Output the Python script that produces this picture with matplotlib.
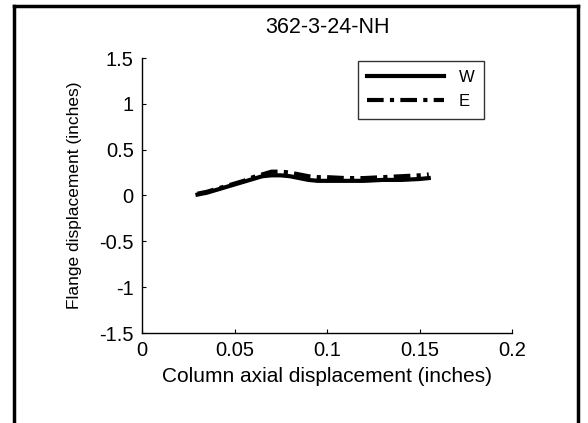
import matplotlib
matplotlib.use("Agg")
import matplotlib.pyplot as plt
from matplotlib.lines import Line2D

plt.rcParams['font.family'] = ['Liberation Sans', 'DejaVu Sans']

# data
x_disp = [0.030, 0.035, 0.040, 0.045, 0.050, 0.055, 0.060, 0.065, 0.070, 0.075, 0.080,
          0.085, 0.090, 0.095, 0.100, 0.110, 0.120, 0.130, 0.140, 0.150, 0.155]
y_w = [0.01, 0.03, 0.06, 0.09, 0.12, 0.15, 0.18, 0.21, 0.22, 0.22, 0.21,
       0.19, 0.17, 0.16, 0.16, 0.16, 0.16, 0.17, 0.17, 0.18, 0.19]
y_e = [0.02, 0.04, 0.07, 0.10, 0.13, 0.16, 0.20, 0.23, 0.26, 0.26, 0.25,
       0.23, 0.21, 0.20, 0.20, 0.19, 0.19, 0.20, 0.21, 0.22, 0.23]
x_ticks = [0, 0.05, 0.1, 0.15, 0.2]
x_labels = ['0', '0.05', '0.1', '0.15', '0.2']
y_ticks = [-1.5, -1, -0.5, 0, 0.5, 1, 1.5]
y_labels = ['-1.5', '-1', '-0.5', '0', '0.5', '1', '1.5']

fig = plt.figure(figsize=(5.88, 4.23), dpi=100)
ax = fig.add_axes([142/588, 1-333/423, 370/588, 275/423])

ax.plot(x_disp, y_w, color='black', lw=3, ls='-', label='W')
ax.plot(x_disp, y_e, color='black', lw=3, ls=(0, (4, 1.5, 1, 1.5)), label='E')

ax.set_xlim(0, 0.2)
ax.set_ylim(-1.5, 1.5)
ax.set_xticks(x_ticks)
ax.set_xticklabels(x_labels)
ax.set_yticks(y_ticks)
ax.set_yticklabels(y_labels)
ax.tick_params(direction='in', length=3, labelsize=14.5, width=0.8, pad=6)
for s in ['top', 'right']:
    ax.spines[s].set_visible(False)
ax.spines['left'].set_linewidth(1)
ax.spines['bottom'].set_linewidth(1)

ax.set_title('362-3-24-NH', fontsize=15.5, pad=18)
ax.set_xlabel('Column axial displacement (inches)', fontsize=15, labelpad=5)
ax.set_ylabel('Flange displacement (inches)', fontsize=12.5, labelpad=12)

leg = ax.legend(loc='upper right', bbox_to_anchor=(484/588, 1-61/423), bbox_transform=fig.transFigure,
                borderaxespad=0, frameon=True, fancybox=False, edgecolor='black', fontsize=12,
                handlelength=4.6, borderpad=0.55, labelspacing=0.55, handletextpad=0.9)
leg.get_frame().set_linewidth(1)

# figure border (left, top, right)
fig.add_artist(Line2D([14/588, 14/588], [0, 1-6/423], color='black', lw=2.5, transform=fig.transFigure))
fig.add_artist(Line2D([14/588, 578/588], [1-6/423, 1-6/423], color='black', lw=2.5, transform=fig.transFigure))
fig.add_artist(Line2D([578/588, 578/588], [0, 1-6/423], color='black', lw=2.5, transform=fig.transFigure))

fig.savefig('out.png', dpi=100)
